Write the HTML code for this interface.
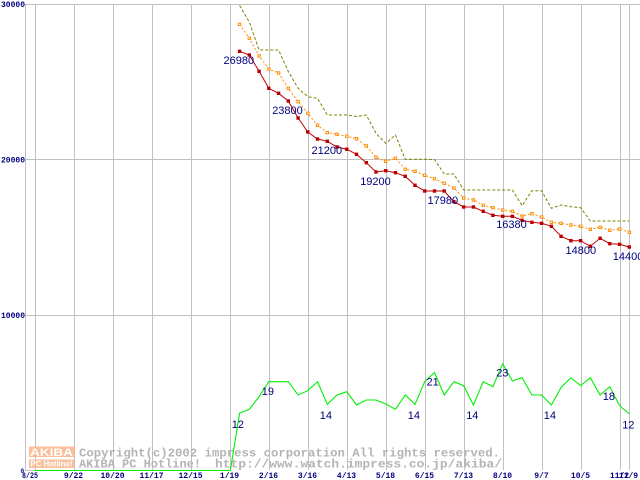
<!DOCTYPE html>
<html><head><meta charset="utf-8"><style>
html,body{margin:0;padding:0;background:#fff;width:640px;height:480px;overflow:hidden}
svg{display:block}
.ax{font-family:"Liberation Mono",monospace;font-weight:bold;font-size:8px;fill:#000080}
.lb{font-family:"Liberation Sans",sans-serif;font-size:11px;fill:#000080}
.wm{font-family:"Liberation Mono",monospace;font-weight:bold;font-size:12.3px;fill:#b4b4b4}
</style></head><body>
<svg width="640" height="480" viewBox="0 0 640 480" xmlns="http://www.w3.org/2000/svg">
<rect width="640" height="480" fill="#fff"/>
<g stroke="#c0c0c0" stroke-width="1" shape-rendering="crispEdges" fill="none">
<line x1="25" y1="4.5" x2="640" y2="4.5"/>
<line x1="25" y1="159.5" x2="640" y2="159.5"/>
<line x1="25" y1="315.5" x2="640" y2="315.5"/>
<line x1="25" y1="470.5" x2="36" y2="470.5"/>
<line x1="25.5" y1="4" x2="25.5" y2="471"/>
<line x1="35.5" y1="4" x2="35.5" y2="470"/>
<line x1="74.5" y1="4" x2="74.5" y2="470"/>
<line x1="113.5" y1="4" x2="113.5" y2="470"/>
<line x1="152.5" y1="4" x2="152.5" y2="470"/>
<line x1="191.5" y1="4" x2="191.5" y2="470"/>
<line x1="230.5" y1="4" x2="230.5" y2="470"/>
<line x1="269.5" y1="4" x2="269.5" y2="470"/>
<line x1="308.5" y1="4" x2="308.5" y2="470"/>
<line x1="347.5" y1="4" x2="347.5" y2="470"/>
<line x1="386.5" y1="4" x2="386.5" y2="470"/>
<line x1="425.5" y1="4" x2="425.5" y2="470"/>
<line x1="464.5" y1="4" x2="464.5" y2="470"/>
<line x1="503.5" y1="4" x2="503.5" y2="470"/>
<line x1="542.5" y1="4" x2="542.5" y2="470"/>
<line x1="581.5" y1="4" x2="581.5" y2="470"/>
<line x1="620.5" y1="4" x2="620.5" y2="470"/>
<line x1="629.5" y1="4" x2="629.5" y2="470"/>
</g>

<!-- watermark -->
<g opacity="0.85">
<rect x="29" y="446.5" width="46" height="10.5" fill="#f8b68a"/>
<rect x="29" y="459.5" width="45.5" height="8.5" fill="#f8b68a"/>
</g>
<text x="30" y="456" font-family="Liberation Sans,sans-serif" font-weight="bold" font-size="11" fill="#fff" textLength="43" lengthAdjust="spacingAndGlyphs">AKIBA</text>
<text x="30.5" y="466.5" font-family="Liberation Sans,sans-serif" font-weight="bold" font-size="8" fill="#fff" textLength="42" lengthAdjust="spacingAndGlyphs">PC Hotline!</text>
<text class="wm" x="79" y="456.5" textLength="421" lengthAdjust="spacingAndGlyphs">Copyright(c)2002 impress corporation All rights reserved.</text>
<text class="wm" x="79" y="467.5" textLength="122" lengthAdjust="spacingAndGlyphs">AKIBA PC Hotline!</text>
<text class="wm" x="215" y="467.5" textLength="287" lengthAdjust="spacingAndGlyphs">http://www.watch.impress.co.jp/akiba/</text>

<!-- olive dashed -->
<polyline fill="none" stroke="#808000" stroke-width="1" stroke-dasharray="3,2" points="239.6,5.5 249.3,22 259.1,50 268.8,50 278.6,50 288.3,71.5 298.1,88.3 307.8,96.7 317.5,98.3 327.3,115 337,115 346.8,115 356.5,116.5 366.3,115 376,133.3 385.7,143.3 395.5,135 405.2,159.3 415,159.3 424.7,159.3 434.5,159.5 444.2,174 453.9,174 463.7,190 473.4,190 483.2,190 492.9,190 502.7,190 512.4,190 522.1,205.7 531.9,190.7 541.6,190.7 551.4,208.3 561.1,205 570.9,206.7 580.6,207.7 590.3,221 600.1,221 609.8,221 619.6,221 629.3,221"/>

<!-- orange dotted -->
<polyline fill="none" stroke="#ff8c00" stroke-width="1" stroke-dasharray="2,2" points="239.6,24.3 249.3,38.3 259.1,56 268.8,69 278.6,73 288.3,88.3 298.1,101.7 307.8,113.3 317.5,125.3 327.3,132.7 337,134.3 346.8,136.3 356.5,138.7 366.3,146 376,157.3 385.7,161.3 395.5,158.3 405.2,169.3 415,171.3 424.7,175.3 434.5,178.7 444.2,183.3 453.9,188 463.7,198 473.4,200 483.2,205.3 492.9,207.7 502.7,210 512.4,211.3 522.1,216 531.9,213.7 541.6,217 551.4,222.3 561.1,223.3 570.9,225 580.6,226.3 590.3,229.3 600.1,227.3 609.8,230.3 619.6,229 629.3,232.3"/>
<g fill="#fff" stroke="#ff8c00" stroke-width="1">
<rect x="238.4" y="23.1" width="2.4" height="2.4"/><rect x="248.1" y="37.1" width="2.4" height="2.4"/><rect x="257.9" y="54.8" width="2.4" height="2.4"/><rect x="267.6" y="67.8" width="2.4" height="2.4"/><rect x="277.4" y="71.8" width="2.4" height="2.4"/><rect x="287.1" y="87.1" width="2.4" height="2.4"/><rect x="296.9" y="100.5" width="2.4" height="2.4"/><rect x="306.6" y="112.1" width="2.4" height="2.4"/><rect x="316.3" y="124.1" width="2.4" height="2.4"/><rect x="326.1" y="131.5" width="2.4" height="2.4"/><rect x="335.8" y="133.1" width="2.4" height="2.4"/><rect x="345.6" y="135.1" width="2.4" height="2.4"/><rect x="355.3" y="137.5" width="2.4" height="2.4"/><rect x="365.1" y="144.8" width="2.4" height="2.4"/><rect x="374.8" y="156.1" width="2.4" height="2.4"/><rect x="384.5" y="160.1" width="2.4" height="2.4"/><rect x="394.3" y="157.1" width="2.4" height="2.4"/><rect x="404" y="168.1" width="2.4" height="2.4"/><rect x="413.8" y="170.1" width="2.4" height="2.4"/><rect x="423.5" y="174.1" width="2.4" height="2.4"/><rect x="433.3" y="177.5" width="2.4" height="2.4"/><rect x="443" y="182.1" width="2.4" height="2.4"/><rect x="452.7" y="186.8" width="2.4" height="2.4"/><rect x="462.5" y="196.8" width="2.4" height="2.4"/><rect x="472.2" y="198.8" width="2.4" height="2.4"/><rect x="482" y="204.1" width="2.4" height="2.4"/><rect x="491.7" y="206.5" width="2.4" height="2.4"/><rect x="501.5" y="208.8" width="2.4" height="2.4"/><rect x="511.2" y="210.1" width="2.4" height="2.4"/><rect x="520.9" y="214.8" width="2.4" height="2.4"/><rect x="530.7" y="212.5" width="2.4" height="2.4"/><rect x="540.4" y="215.8" width="2.4" height="2.4"/><rect x="550.2" y="221.1" width="2.4" height="2.4"/><rect x="559.9" y="222.1" width="2.4" height="2.4"/><rect x="569.7" y="223.8" width="2.4" height="2.4"/><rect x="579.4" y="225.1" width="2.4" height="2.4"/><rect x="589.1" y="228.1" width="2.4" height="2.4"/><rect x="598.9" y="226.1" width="2.4" height="2.4"/><rect x="608.6" y="229.1" width="2.4" height="2.4"/><rect x="618.4" y="227.8" width="2.4" height="2.4"/><rect x="628.1" y="231.1" width="2.4" height="2.4"/>
</g>

<!-- red solid -->
<polyline fill="none" stroke="#c00000" stroke-width="1" points="239.6,51.3 249.3,55 259.1,71.3 268.8,88.3 278.6,93.3 288.3,101 298.1,118 307.8,132 317.5,139 327.3,141.3 337,147 346.8,149.2 356.5,154.3 366.3,162.7 376,172 385.7,170.7 395.5,172.7 405.2,176.3 415,185.3 424.7,191 434.5,191 444.2,191 453.9,201.7 463.7,207 473.4,207 483.2,211.3 492.9,215.3 502.7,216.3 512.4,216.3 522.1,220.3 531.9,222.3 541.6,223.3 551.4,226.3 561.1,236.3 570.9,240.7 580.6,240.7 590.3,246.3 600.1,238.3 609.8,243.7 619.6,244.3 629.3,247"/>
<g fill="#b80000">
<rect x="237.9" y="49.6" width="3.4" height="3.4"/><rect x="247.6" y="53.3" width="3.4" height="3.4"/><rect x="257.4" y="69.6" width="3.4" height="3.4"/><rect x="267.1" y="86.6" width="3.4" height="3.4"/><rect x="276.9" y="91.6" width="3.4" height="3.4"/><rect x="286.6" y="99.3" width="3.4" height="3.4"/><rect x="296.4" y="116.3" width="3.4" height="3.4"/><rect x="306.1" y="130.3" width="3.4" height="3.4"/><rect x="315.8" y="137.3" width="3.4" height="3.4"/><rect x="325.6" y="139.6" width="3.4" height="3.4"/><rect x="335.3" y="145.3" width="3.4" height="3.4"/><rect x="345.1" y="147.5" width="3.4" height="3.4"/><rect x="354.8" y="152.6" width="3.4" height="3.4"/><rect x="364.6" y="161" width="3.4" height="3.4"/><rect x="374.3" y="170.3" width="3.4" height="3.4"/><rect x="384" y="169" width="3.4" height="3.4"/><rect x="393.8" y="171" width="3.4" height="3.4"/><rect x="403.5" y="174.6" width="3.4" height="3.4"/><rect x="413.3" y="183.6" width="3.4" height="3.4"/><rect x="423" y="189.3" width="3.4" height="3.4"/><rect x="432.8" y="189.3" width="3.4" height="3.4"/><rect x="442.5" y="189.3" width="3.4" height="3.4"/><rect x="452.2" y="200" width="3.4" height="3.4"/><rect x="462" y="205.3" width="3.4" height="3.4"/><rect x="471.7" y="205.3" width="3.4" height="3.4"/><rect x="481.5" y="209.6" width="3.4" height="3.4"/><rect x="491.2" y="213.6" width="3.4" height="3.4"/><rect x="501" y="214.6" width="3.4" height="3.4"/><rect x="510.7" y="214.6" width="3.4" height="3.4"/><rect x="520.4" y="218.6" width="3.4" height="3.4"/><rect x="530.2" y="220.6" width="3.4" height="3.4"/><rect x="539.9" y="221.6" width="3.4" height="3.4"/><rect x="549.7" y="224.6" width="3.4" height="3.4"/><rect x="559.4" y="234.6" width="3.4" height="3.4"/><rect x="569.2" y="239" width="3.4" height="3.4"/><rect x="578.9" y="239" width="3.4" height="3.4"/><rect x="588.6" y="244.6" width="3.4" height="3.4"/><rect x="598.4" y="236.6" width="3.4" height="3.4"/><rect x="608.1" y="242" width="3.4" height="3.4"/><rect x="617.9" y="242.6" width="3.4" height="3.4"/><rect x="627.6" y="245.3" width="3.4" height="3.4"/>
</g>

<!-- green -->
<polyline fill="none" stroke="#00f000" stroke-width="1.1" points="35,470.5 230.3,470.5 239.6,413.3 249.3,409.3 259.1,396.7 268.8,381.7 278.6,381.7 288.3,381.7 298.1,395 307.8,390.7 317.5,381.7 327.3,404.3 337,395 346.8,391.7 356.5,405 366.3,400 376,400 385.7,404 395.5,409.3 405.2,395 415,404.3 424.7,381.7 434.5,372.5 444.2,395 453.9,381.7 463.7,385.7 473.4,405 483.2,381.7 492.9,386.7 502.7,363.7 512.4,381 522.1,377.7 531.9,395 541.6,395 551.4,405 561.1,387.3 570.9,377.7 580.6,385.7 590.3,377.7 600.1,395 609.8,386.7 619.6,405.7 629.3,414"/>

<!-- value labels -->
<g class="lb">
<text x="223.5" y="64">26980</text>
<text x="272.2" y="114">23800</text>
<text x="311.5" y="154">21200</text>
<text x="360.2" y="185">19200</text>
<text x="427.5" y="204">17980</text>
<text x="496.2" y="228">16380</text>
<text x="565.5" y="254">14800</text>
<text x="612.8" y="260">14400</text>
<text x="231.8" y="428">12</text>
<text x="261.8" y="395">19</text>
<text x="319.8" y="419">14</text>
<text x="407.8" y="419">14</text>
<text x="426.5" y="385.7">21</text>
<text x="466.2" y="419">14</text>
<text x="496.2" y="376.7">23</text>
<text x="543.8" y="419">14</text>
<text x="602.8" y="400">18</text>
<text x="622.2" y="428.3">12</text>
</g>

<!-- axis labels -->
<g class="ax">
<text x="25" y="7" text-anchor="end">30000</text>
<text x="25" y="162.7" text-anchor="end">20000</text>
<text x="25" y="318" text-anchor="end">10000</text>
<text x="20.5" y="473" font-size="6">0</text>
<text x="22" y="478" textLength="16" lengthAdjust="spacingAndGlyphs">8/25</text>
<text x="73.5" y="478" text-anchor="middle">9/22</text>
<text x="112.5" y="478" text-anchor="middle">10/20</text>
<text x="151.5" y="478" text-anchor="middle">11/17</text>
<text x="190.5" y="478" text-anchor="middle">12/15</text>
<text x="229.5" y="478" text-anchor="middle">1/19</text>
<text x="268.5" y="478" text-anchor="middle">2/16</text>
<text x="307.5" y="478" text-anchor="middle">3/16</text>
<text x="346.5" y="478" text-anchor="middle">4/13</text>
<text x="385.5" y="478" text-anchor="middle">5/18</text>
<text x="424.5" y="478" text-anchor="middle">6/15</text>
<text x="463.5" y="478" text-anchor="middle">7/13</text>
<text x="502.5" y="478" text-anchor="middle">8/10</text>
<text x="541.5" y="478" text-anchor="middle">9/7</text>
<text x="580.5" y="478" text-anchor="middle">10/5</text>
<text x="619.5" y="478" text-anchor="middle">11/2</text>
<text x="628.5" y="478" text-anchor="middle">11/9</text>
</g>
</svg>
</body></html>
